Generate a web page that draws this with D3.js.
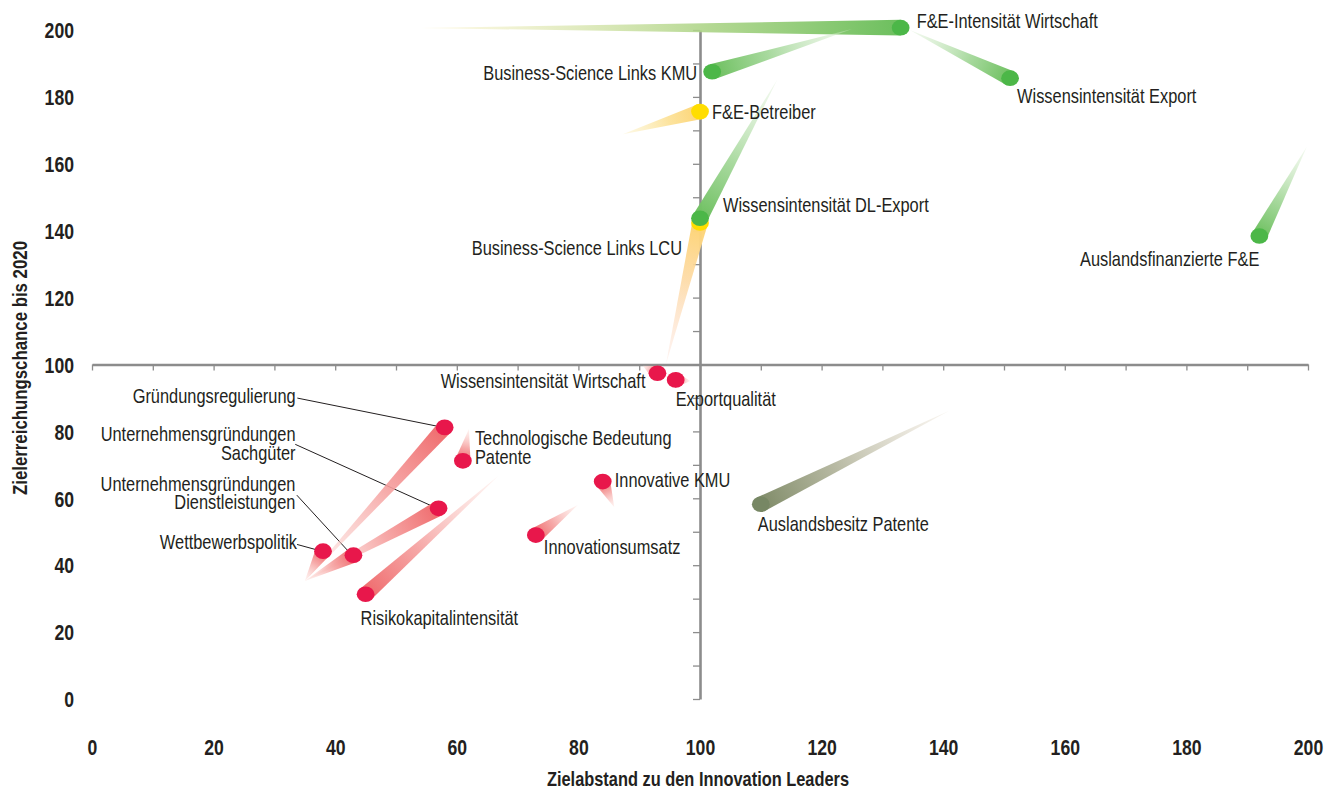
<!DOCTYPE html>
<html><head><meta charset="utf-8">
<script src="https://cdn.jsdelivr.net/npm/d3@7"></script>
<style>
html,body{margin:0;padding:0;background:#fff;}
svg{display:block;font-family:"Liberation Sans",Arial,Helvetica,sans-serif;}
</style></head><body>
<svg id="chart" width="1331" height="789"></svg>
<script>
// ---------- data ----------
const indicators = [
  "Business-Science Links LCU",
  "F&E-Intensität Wirtschaft",
  "Business-Science Links KMU",
  "Wissensintensität Export",
  "F&E-Betreiber",
  "Wissensintensität DL-Export",
  "Auslandsfinanzierte F&E",
  "Wissensintensität Wirtschaft",
  "Exportqualität",
  "Gründungsregulierung",
  "Unternehmensgründungen Sachgüter",
  "Unternehmensgründungen Dienstleistungen",
  "Wettbewerbspolitik",
  "Risikokapitalintensität",
  "Technologische Bedeutung Patente",
  "Innovative KMU",
  "Innovationsumsatz",
  "Auslandsbesitz Patente"
];
// current position (head of the comet)
const zielabstand      = [100, 133, 102, 151, 100, 100, 192, 93, 96, 58, 57, 43, 38, 45, 61, 84, 73, 110];
const zielerreichung   = [142.3, 200.7, 187.5, 185.6, 175.6, 143.7, 138.4, 97.4, 95.4, 81.2, 57, 43, 44.2, 31.3, 71.2, 65, 49, 58.2];
// earlier position (tip of the tail)
const zielabstandVor    = [94.4, 54, 125, 134.5, 87.3, 112.7, 199.8, 90.6, 98.4, 35, 35, 35, 35, 66.8, 62, 85.9, 79.9, 141];
const zielerreichungVor = [100.1, 200.6, 200.3, 200, 168.8, 185.1, 165.1, 99.6, 95.1, 35.3, 35.3, 35.3, 35.3, 66.7, 80.7, 57.3, 58, 86.2];
// status (colour class) now and before
const statusNow = ["gelb","grün","grün","grün","gelb","grün","grün","rot","rot","rot","rot","rot","rot","rot","rot","rot","rot","grau"];
const statusVor = ["rot","gelb","grün","grün","gelb","grün","grün","rot","rot","rot","rot","rot","rot","rot","rot","rot","rot","grau"];

const xTickValues = [0, 20, 40, 60, 80, 100, 120, 140, 160, 180, 200];
const yTickValues = [0, 20, 40, 60, 80, 100, 120, 140, 160, 180, 200];
const xTitle = "Zielabstand zu den Innovation Leaders";
const yTitle = "Zielerreichungschance bis 2020";

// ---------- styles / layout ----------
const palette = {
  "grün": {head:"#4cb748", tail:"#6cbf5e", pale:"#dcefd3"},
  "gelb": {head:"#ffdd00", tail:"#fdd474", pale:"#fbeeb8"},
  "rot":  {head:"#e8174b", tail:"#ef6a6c", pale:"#fde0da"},
  "grau": {head:"#778764", tail:"#7f8b68", pale:"#ece2d4"}
};
// label layout: offsets (px) from the head, text anchor, lines, leader start (relative to head)
const labelLayout = [
  {dx:-18, dy:32, anchor:"end"},
  {dx:16, dy:0, anchor:"start"},
  {dx:-15, dy:8, anchor:"end"},
  {dx:7, dy:24.5, anchor:"start"},
  {dx:12, dy:7.6, anchor:"start"},
  {dx:23, dy:-6.6, anchor:"start"},
  {dx:0, dy:30, anchor:"end"},
  {dx:-12, dy:15, anchor:"end"},
  {dx:0, dy:26, anchor:"start"},
  {dx:-149, dy:-24.6, anchor:"end", leader:[-147.3,-29.3]},
  {dx:-143, dy:-67, anchor:"end", lines:["Unternehmensgründungen","Sachgüter"], leader:[-143.3,-64]},
  {dx:-58, dy:-64.3, anchor:"end", lines:["Unternehmensgründungen","Dienstleistungen"], leader:[-56.6,-60]},
  {dx:-26, dy:-2, anchor:"end", leader:[-26,-6.7]},
  {dx:-5, dy:31, anchor:"start"},
  {dx:12, dy:-15.7, anchor:"start", lines:["Technologische Bedeutung","Patente"]},
  {dx:12, dy:5, anchor:"start"},
  {dx:8, dy:19, anchor:"start"},
  {dx:-3, dy:27, anchor:"start"}
];
const condense = 0.82;   // narrow type face look

const svg = d3.select("#chart");
const x = d3.scaleLinear().domain([0, 200]).range([92, 1308]);
const y = d3.scaleLinear().domain([0, 200]).range([699, 30]);
const textColor = "#231f20";
const axisColor = "#8c8c8c";

svg.append("rect").attr("width",1331).attr("height",789).attr("fill","#fff");

// ---------- axes crossing at (100,100) ----------
const xAxis = svg.append("g").attr("transform",`translate(0,${y(100)})`)
  .call(d3.axisBottom(x).tickValues(d3.range(0,201,10)).tickSize(6).tickSizeOuter(0).tickFormat(""));
const yAxis = svg.append("g").attr("transform",`translate(${x(100)},0)`)
  .call(d3.axisLeft(y).tickValues(d3.range(0,201,10)).tickSize(7).tickSizeOuter(0).tickFormat(""));
[xAxis, yAxis].forEach(g => {
  g.select(".domain").attr("stroke",axisColor).attr("stroke-width",2.6);
  g.selectAll(".tick line").attr("stroke",axisColor).attr("stroke-width",1.3);
});

// ---------- tick labels ----------
const xLab = svg.append("g").attr("transform","translate(0,755)")
  .call(d3.axisBottom(x).tickValues(xTickValues).tickSize(0).tickPadding(0).tickFormat(d3.format("d")));
xLab.select(".domain").remove();
xLab.selectAll("text").attr("y",0).attr("dy",0).attr("font-size",21.5).attr("font-weight","bold")
  .attr("font-family",'"Liberation Sans",Arial,sans-serif').attr("fill",textColor)
  .attr("transform",`scale(${condense},1)`);

const yLab = svg.append("g").attr("transform","translate(74,0)")
  .call(d3.axisLeft(y).tickValues(yTickValues).tickSize(0).tickPadding(0).tickFormat(d3.format("d")));
yLab.select(".domain").remove();
yLab.selectAll("text").attr("x",0).attr("dy","0.36em").attr("font-size",21.5).attr("font-weight","bold")
  .attr("font-family",'"Liberation Sans",Arial,sans-serif').attr("fill",textColor)
  .attr("transform",`scale(${condense},1)`);

svg.append("text").attr("transform",`translate(698,786) scale(${condense},1)`).attr("text-anchor","middle")
  .attr("font-size",20).attr("font-weight","bold").attr("fill",textColor).text(xTitle);
svg.append("text").attr("transform",`translate(27,368) rotate(-90) scale(${condense},1)`).attr("text-anchor","middle")
  .attr("font-size",20.5).attr("font-weight","bold").attr("fill",textColor).text(yTitle);

// ---------- comets ----------
const defs = svg.append("defs");
const data = indicators.map((name,i) => ({
  name, i,
  hx: x(zielabstand[i]), hy: y(zielerreichung[i]),
  tx: x(zielabstandVor[i]), ty: y(zielerreichungVor[i]),
  now: statusNow[i], vor: statusVor[i]
}));

const halfW = 7.8;
data.forEach(d => {
  const c0 = palette[d.now].tail, c1 = palette[d.vor].pale;
  const g = defs.append("linearGradient").attr("id","grad"+d.i)
    .attr("gradientUnits","userSpaceOnUse")
    .attr("x1",d.hx).attr("y1",d.hy).attr("x2",d.tx).attr("y2",d.ty);
  g.append("stop").attr("offset",0).attr("stop-color",c0).attr("stop-opacity",1);
  g.append("stop").attr("offset",0.4).attr("stop-color",d3.interpolateRgb(c0,c1)(0.45)).attr("stop-opacity",0.9);
  g.append("stop").attr("offset",1).attr("stop-color",c1).attr("stop-opacity",0.35);
});

const leaderG = svg.append("g");
const tails = svg.append("g");
tails.selectAll("path").data(data).join("path")
  .attr("d", d => {
    const vx = d.tx - d.hx, vy = d.ty - d.hy, len = Math.hypot(vx,vy) || 1;
    const nx = -vy/len*halfW, ny = vx/len*halfW;
    return `M${d.hx+nx},${d.hy+ny}L${d.tx},${d.ty}L${d.hx-nx},${d.hy-ny}Z`;
  })
  .attr("fill", d => `url(#grad${d.i})`);

const heads = svg.append("g");
heads.selectAll("ellipse").data(data).join("ellipse")
  .attr("cx", d => d.hx).attr("cy", d => d.hy)
  .attr("rx", 8.9).attr("ry", 7.8)
  .attr("fill", d => palette[d.now].head);

// ---------- labels ----------
const labels = svg.append("g").attr("font-size",20).attr("fill",textColor);
data.forEach(d => {
  const L = labelLayout[d.i];
  const lines = L.lines || [d.name];
  const t = labels.append("text").attr("text-anchor",L.anchor)
    .attr("transform", `translate(${d.hx + L.dx},${d.hy + L.dy}) scale(${condense},1)`);
  lines.forEach((ln,k) => t.append("tspan").attr("x", 0).attr("y", k * 18.4).text(ln));
  if (L.leader) {
    leaderG.append("line")
      .attr("x1", d.hx + L.leader[0]).attr("y1", d.hy + L.leader[1])
      .attr("x2", d.hx - 1.5).attr("y2", d.hy)
      .attr("stroke","#231f20").attr("stroke-width",1);
  }
});
</script>
</body></html>
